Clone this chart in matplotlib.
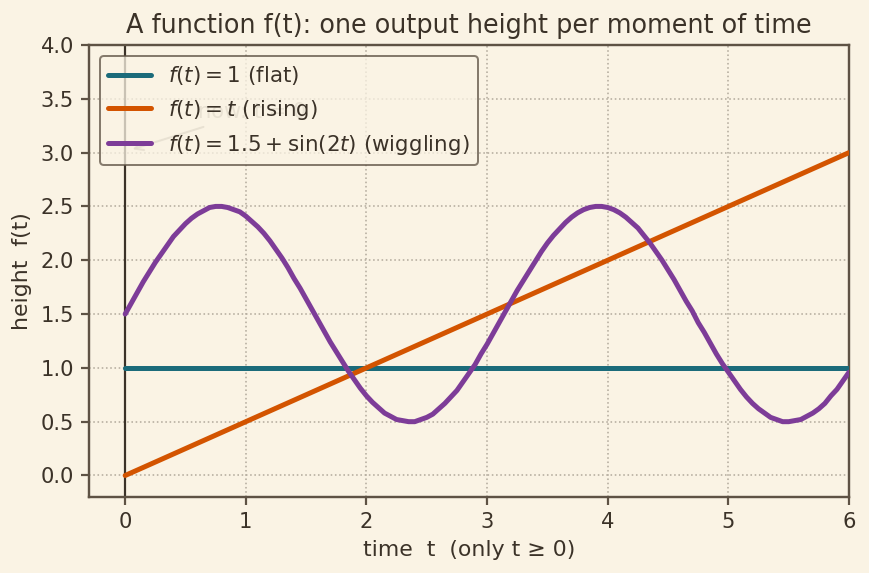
import numpy as np
import matplotlib.pyplot as plt

# ------------------------------------------------------------------
# Data
t_flat = [0.0, 6.0]
f_flat = [1.0, 1.0]

t_rise = [0.0, 6.0]
f_rise = [0.0, 3.0]

# wiggling curve, sampled every 0.05 in t
t_wig = [round(0.05 * i, 2) for i in range(121)]
f_wig = [1.50, 1.60, 1.70, 1.80, 1.89, 1.98, 2.06, 2.14, 2.22, 2.28,
         2.34, 2.39, 2.43, 2.46, 2.49, 2.50, 2.50, 2.49, 2.47, 2.45,
         2.41, 2.36, 2.31, 2.25, 2.18, 2.10, 2.02, 1.93, 1.83, 1.74,
         1.64, 1.54, 1.44, 1.34, 1.24, 1.15, 1.06, 0.97, 0.89, 0.81,
         0.74, 0.68, 0.63, 0.58, 0.55, 0.52, 0.51, 0.50, 0.50, 0.52,
         0.54, 0.57, 0.62, 0.67, 0.73, 0.79, 0.87, 0.95, 1.03, 1.13,
         1.22, 1.32, 1.42, 1.52, 1.62, 1.72, 1.81, 1.90, 1.99, 2.08,
         2.16, 2.23, 2.29, 2.35, 2.40, 2.44, 2.47, 2.49, 2.50, 2.50,
         2.49, 2.47, 2.44, 2.40, 2.35, 2.30, 2.23, 2.16, 2.08, 2.00,
         1.91, 1.82, 1.72, 1.62, 1.53, 1.42, 1.33, 1.23, 1.13, 1.04,
         0.96, 0.88, 0.80, 0.73, 0.67, 0.62, 0.58, 0.54, 0.52, 0.50,
         0.50, 0.51, 0.52, 0.55, 0.58, 0.62, 0.67, 0.74, 0.80, 0.88,
         0.96]

labels = [r"$f(t) = 1$ (flat)",
          r"$f(t) = t$ (rising)",
          r"$f(t) = 1.5 + \sin(2t)$ (wiggling)"]
colors = ["#1b6b7a", "#d35400", "#7d3c98"]

BG = "#faf3e4"
INK = "#3b3228"
SPINE = "#5e5244"

# ------------------------------------------------------------------
fig, ax = plt.subplots(figsize=(869 / 144, 573 / 144), dpi=144)
fig.patch.set_facecolor(BG)
ax.set_facecolor(BG)
fig.subplots_adjust(left=0.1024, right=0.977, top=0.9215, bottom=0.1326)

ax.axvline(0, color=INK, lw=1.1, zorder=1)

for tt, ff, c, lab in [(t_flat, f_flat, colors[0], labels[0]),
                       (t_rise, f_rise, colors[1], labels[1]),
                       (t_wig, f_wig, colors[2], labels[2])]:
    ax.plot(tt, ff, color=c, lw=2.5, label=lab, zorder=3,
            solid_joinstyle="round", solid_capstyle="round")

# faint annotation sitting behind the legend
ax.annotate("now: t = 0", xy=(0.03, 3.02), xytext=(0.6, 3.38),
            color="#a39a8b", fontsize=10.5, va="center", alpha=0.8,
            arrowprops=dict(arrowstyle="->", color="#a39a8b", lw=1.0, alpha=0.8),
            zorder=2)

ax.set_xlim(-0.3, 6)
ax.set_ylim(-0.2, 4.0)
ax.set_xticks(np.arange(0, 7, 1))
ax.set_yticks(np.arange(0, 4.01, 0.5))
ax.yaxis.set_major_formatter(plt.FormatStrFormatter("%.1f"))

ax.grid(True, linestyle=":", color="#b5ad9f", lw=0.8)
ax.set_axisbelow(True)
for s in ax.spines.values():
    s.set_color(SPINE)
    s.set_linewidth(1.2)
ax.tick_params(colors=INK, labelsize=10.5, length=4, width=1.1, color=SPINE)

ax.set_title("A function f(t): one output height per moment of time",
             fontsize=12.75, color=INK, pad=6)
ax.set_xlabel("time  t  (only t \u2265 0)", fontsize=11, color=INK)
ax.set_ylabel("height  f(t)", fontsize=11, color=INK)

leg = ax.legend(loc="upper left", fontsize=10.7, facecolor=BG, edgecolor=SPINE,
                framealpha=0.75, labelcolor=INK, handlelength=2.0)
leg.get_frame().set_linewidth(1.0)
leg.set_zorder(5)

fig.savefig("out.png", dpi=144, facecolor=BG)
